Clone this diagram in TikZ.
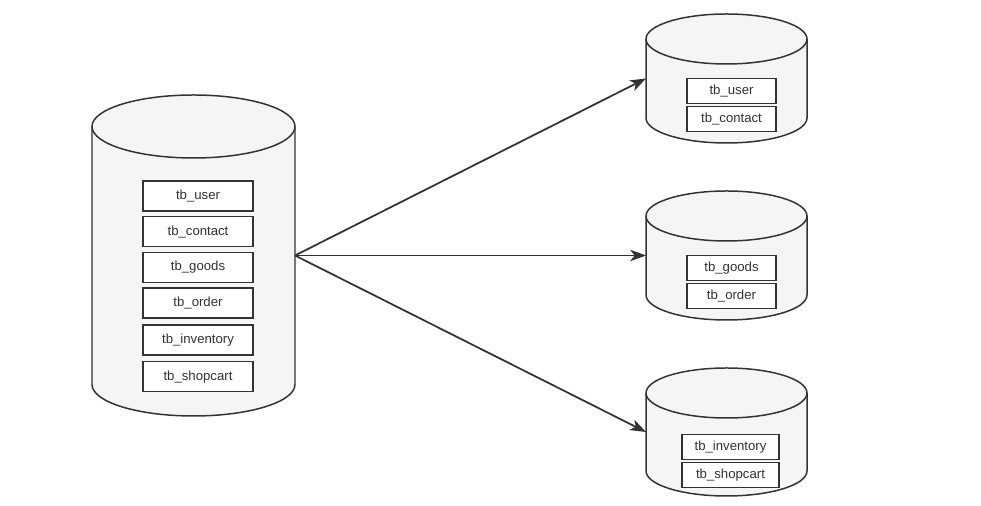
\documentclass[tikz,border=0pt]{standalone}
\usepackage{fontspec}
\setmainfont{Liberation Sans}
\usetikzlibrary{arrows.meta,positioning}

\definecolor{dbgray}{HTML}{F5F5F5}
\definecolor{lnc}{HTML}{333333}

% cylinder: name, cx, top centre y, bottom centre y, rx, ry
\newcommand{\dbcyl}[6]{%
  \filldraw[cyl] (#2-#5,#3) -- (#2-#5,#4)
    arc[start angle=180, end angle=360, x radius=#5, y radius=#6]
    -- (#2+#5,#3)
    arc[start angle=0, end angle=180, x radius=#5, y radius=#6] -- cycle;
  \draw[cyl, fill=none] (#2-#5,#3)
    arc[start angle=180, end angle=360, x radius=#5, y radius=#6];
  \coordinate (#1-w) at (#2-#5,{(#3+#4)/2});
  \coordinate (#1-e) at (#2+#5,{(#3+#4)/2});
}

\begin{document}
\begin{tikzpicture}[
    x=0.02cm, y=0.02cm,
    cyl/.style={draw=lnc, fill=dbgray, line width=0.85pt},
    tbl/.style={draw=lnc, fill=white, line width=0.85pt, inner sep=0pt,
                font=\fontsize{7.5}{9}\selectfont, text=lnc},
    bigtbl/.style={tbl, minimum width=2.2cm, minimum height=0.6cm},
    smalltbl/.style={tbl, minimum width=1.78cm, minimum height=0.5cm},
    flow/.style={-{Stealth[length=9pt, width=6.5pt, inset=2.5pt]}, draw=lnc, line width=1pt}
]
\useasboundingbox (0,0) rectangle (981,506);

% source database
\dbcyl{src}{193.5}{379.5}{121.5}{101.5}{31.5}
% target databases
\dbcyl{db1}{726.5}{467}{388}{80.5}{25}
\dbcyl{db2}{726.5}{290}{211}{80.5}{25}
\dbcyl{db3}{726.5}{113}{35}{80.5}{25}

\node[bigtbl] (user) at (198,310) {tb\_user};
\node[bigtbl, below=0.085cm of user] (contact) {tb\_contact};
\node[bigtbl, below=0.085cm of contact] (goods) {tb\_goods};
\node[bigtbl, below=0.085cm of goods] (order) {tb\_order};
\node[bigtbl, below=0.105cm of order] (inventory) {tb\_inventory};
\node[bigtbl, below=0.105cm of inventory] (shopcart) {tb\_shopcart};

\node[smalltbl] (user1) at (731.5,415) {tb\_user};
\node[smalltbl, below=0.03cm of user1] (contact1) {tb\_contact};
\node[smalltbl] (goods2) at (731.5,238) {tb\_goods};
\node[smalltbl, below=0.03cm of goods2] (order2) {tb\_order};
\node[smalltbl, minimum width=1.94cm] (inventory3) at (730.5,59) {tb\_inventory};
\node[smalltbl, minimum width=1.94cm, below=0.03cm of inventory3] (shopcart3) {tb\_shopcart};

\draw[flow] (src-e) -- (db1-w);
\draw[flow] (src-e) -- (db2-w);
\draw[flow] (src-e) -- (db3-w);

\end{tikzpicture}
\end{document}
